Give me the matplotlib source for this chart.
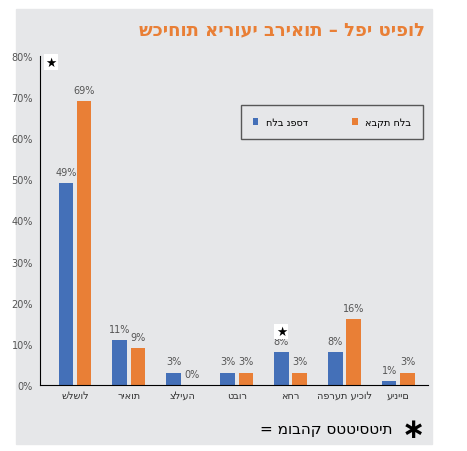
import matplotlib.pyplot as plt
from matplotlib.patches import Rectangle
import numpy as np

categories = ['שלשול', 'ריאות', 'צליעה', 'טבור', 'אחר', 'הפרעת עיכול', 'עיניים']
nifsad = [49, 11, 3, 3, 8, 8, 1]
avka = [69, 9, 0, 3, 3, 16, 3]
series_names = ['חלב נפסד', 'אבקת חלב']
significant = ['שלשול', 'אחר']
title = 'שכיחות אירועי בריאות – לפי טיפול'
note = '= מובהק סטטיסטית'

BLUE = '#4470b8'
ORANGE = '#e97f36'
GRAY = '#e6e7e9'

fig = plt.figure(figsize=(4.67, 4.52), dpi=100)
fig.patches.append(Rectangle((16 / 467, 1 - 445 / 452), 416 / 467, 435 / 452,
                             transform=fig.transFigure, color=GRAY, zorder=-1))

ax = fig.add_axes([40 / 467, 1 - 386 / 452, 388 / 467, 329 / 452])
ax.set_facecolor(GRAY)
x = np.arange(len(categories))
w = 0.27
b1 = ax.bar(x - 0.17, nifsad, w, color=BLUE, label=series_names[0])
b2 = ax.bar(x + 0.17, avka, w, color=ORANGE, label=series_names[1])
for bars, vals in ((b1, nifsad), (b2, avka)):
    for r, v in zip(bars, vals):
        ax.text(r.get_x() + r.get_width() / 2, v + 1.5, f'{v}%', ha='center',
                va='bottom', fontsize=7, color='#555555')

# significance stars
for c in significant:
    i = categories.index(c)
    if c == 'אחר':
        sx, sy = i - 0.17, 13
    else:
        sx, sy = i - 0.45, 78.5
    ax.text(sx, sy, '★', ha='center', va='center', fontsize=9, color='black',
            bbox=dict(facecolor='white', edgecolor='none', pad=1))

ax.set_ylim(0, 80)
ax.set_xlim(-0.65, len(categories) - 0.45)
ax.set_yticks(range(0, 81, 10))
ax.set_yticklabels([f'{t}%' for t in range(0, 81, 10)], fontsize=7, color='#555555')
ax.set_xticks(x)
ax.set_xticklabels(categories, fontsize=7, color='#333333')
ax.tick_params(length=0)
ax.yaxis.set_tick_params(pad=5)
for s in ['top', 'right']:
    ax.spines[s].set_visible(False)

ax.legend(handles=[b1, b2], loc='upper right', bbox_to_anchor=(1.0, 0.865),
          ncol=2, fontsize=7, frameon=True, fancybox=False, edgecolor='#333333',
          facecolor=GRAY, handlelength=0.6, columnspacing=4.5, borderpad=1.2)

fig.text(425 / 467, 1 - 30 / 452, title, ha='right', va='center',
         fontsize=13, fontweight='bold', color=ORANGE)
fig.text(425 / 467, 1 - 430 / 452, '∗', ha='right', va='center', fontsize=20,
         fontweight='bold')
fig.text(392 / 467, 1 - 430 / 452, note, ha='right', va='center', fontsize=11)

fig.savefig('out.png', dpi=100)
